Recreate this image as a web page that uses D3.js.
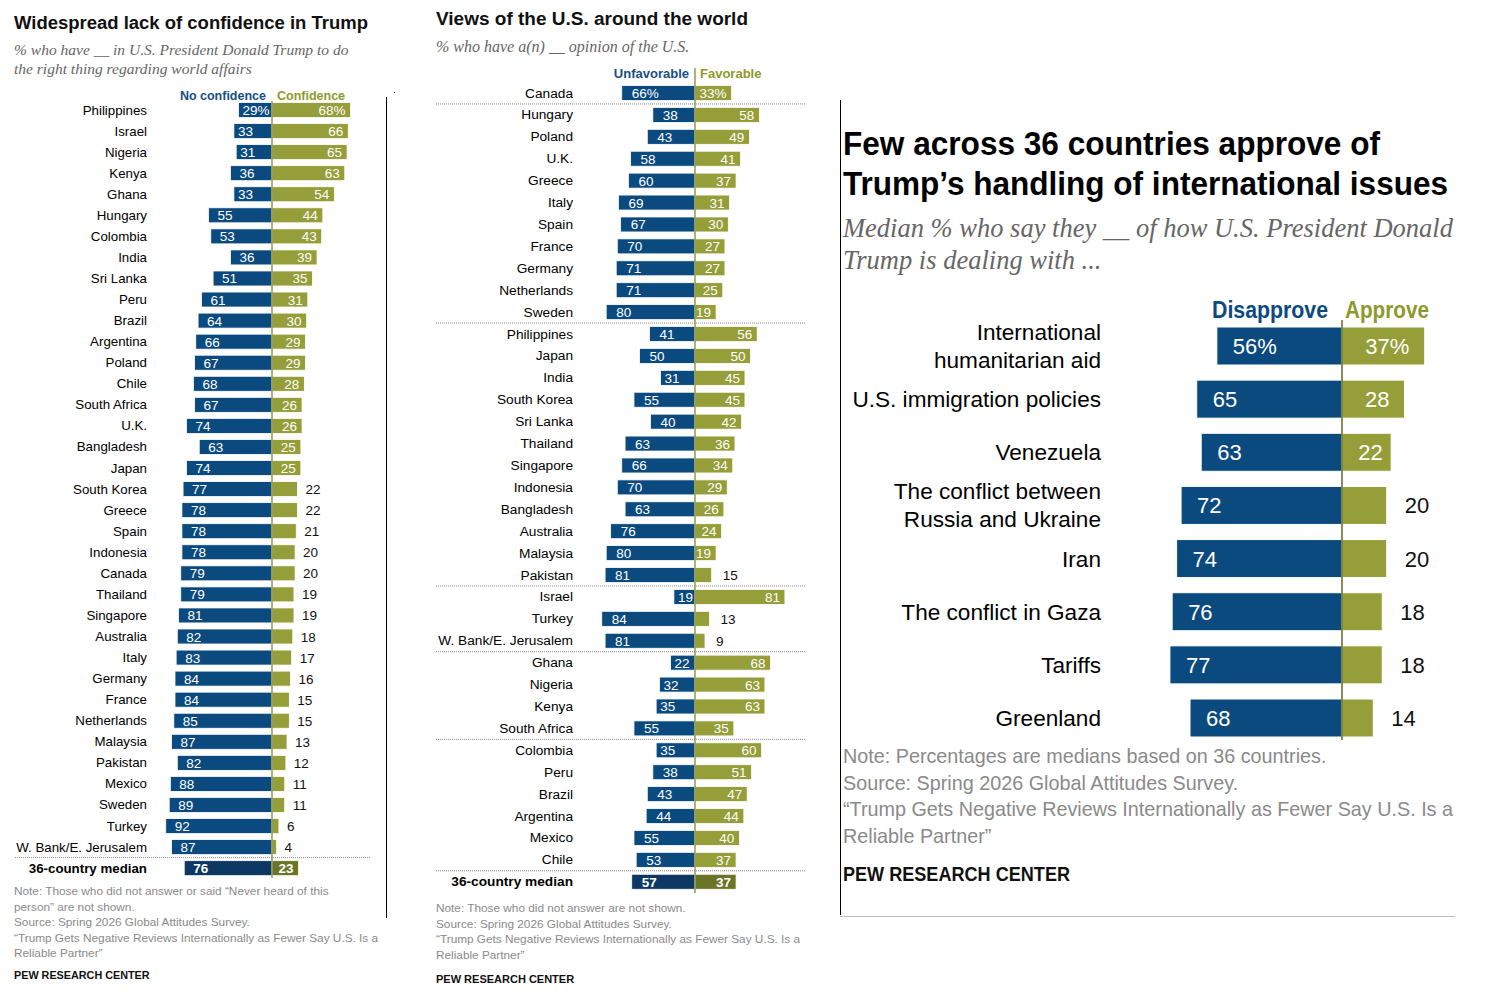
<!DOCTYPE html>
<html><head><meta charset="utf-8">
<script src="https://cdn.jsdelivr.net/npm/d3@7"></script>
<style>body{margin:0;background:#fff}svg{display:block}</style>
</head><body>
<script>
// ---------- DATA ----------
const p1Countries = ["Philippines","Israel","Nigeria","Kenya","Ghana","Hungary","Colombia","India","Sri Lanka","Peru","Brazil","Argentina","Poland","Chile","South Africa","U.K.","Bangladesh","Japan","South Korea","Greece","Spain","Indonesia","Canada","Thailand","Singapore","Australia","Italy","Germany","France","Netherlands","Malaysia","Pakistan","Mexico","Sweden","Turkey","W. Bank/E. Jerusalem"];
const p1NoConfidence = [29,33,31,36,33,55,53,36,51,61,64,66,67,68,67,74,63,74,77,78,78,78,79,79,81,82,83,84,84,85,87,82,88,89,92,87];
const p1Confidence   = [68,66,65,63,54,44,43,39,35,31,30,29,29,28,26,26,25,25,22,22,21,20,20,19,19,18,17,16,15,15,13,12,11,11,6,4];
const p1Median = [76,23];
const p1Legend = ["No confidence","Confidence"];

const p2Countries = ["Canada","Hungary","Poland","U.K.","Greece","Italy","Spain","France","Germany","Netherlands","Sweden","Philippines","Japan","India","South Korea","Sri Lanka","Thailand","Singapore","Indonesia","Bangladesh","Australia","Malaysia","Pakistan","Israel","Turkey","W. Bank/E. Jerusalem","Ghana","Nigeria","Kenya","South Africa","Colombia","Peru","Brazil","Argentina","Mexico","Chile"];
const p2Unfavorable = [66,38,43,58,60,69,67,70,71,71,80,41,50,31,55,40,63,66,70,63,76,80,81,19,84,81,22,32,35,55,35,38,43,44,55,53];
const p2Favorable   = [33,58,49,41,37,31,30,27,27,25,19,56,50,45,45,42,36,34,29,26,24,19,15,81,13,9,68,63,63,35,60,51,47,44,40,37];
const p2GroupEnds = [0,10,22,25,29,35]; // last index of each region group
const p2Median = [57,37];
const p2Legend = ["Unfavorable","Favorable"];

const p3Issues = [["International","humanitarian aid"],["U.S. immigration policies"],["Venezuela"],["The conflict between","Russia and Ukraine"],["Iran"],["The conflict in Gaza"],["Tariffs"],["Greenland"]];
const p3Disapprove = [56,65,63,72,74,76,77,68];
const p3Approve    = [37,28,22,20,20,18,18,14];
const p3Legend = ["Disapprove","Approve"];

// ---------- STYLE ----------
const BLUE="#0b4a7e", OLIVE="#959e38", DBLUE="#0d3864", DOLIVE="#6b7427";
const HBLUE="#174f86", HOLIVE="#8c9a2c";
const SANS="'Liberation Sans', Arial, sans-serif";
const SERIF="'Liberation Serif', Georgia, serif";

const svg = d3.select("body").append("svg").attr("width",1500).attr("height",1000);

function txt(g, x, y, s, o={}) {
  const t = g.append("text").attr("x",x).attr("y",y).text(s)
    .attr("font-family",o.f||SANS).attr("font-size",o.size||13)
    .attr("font-weight",o.w||"normal").attr("font-style",o.it?"italic":"normal")
    .attr("fill",o.c||"#000").attr("text-anchor",o.a||"start");
  if (o.len) t.attr("textLength",o.len).attr("lengthAdjust","spacingAndGlyphs");
  return t;
}

function panel(opt){
  const g = svg.append("g");
  const n = opt.countries.length;
  const xs = d3.scaleLinear().domain([0,100]).range([0,opt.k*100]);
  const ys = d3.scaleLinear().domain([0,n]).range([opt.y0, opt.y0+opt.step*n]);
  const rows = opt.countries.map((c,i)=>({c,a:opt.neg[i],b:opt.pos[i],i,med:false}));
  rows.push({c:"36-country median",a:opt.median[0],b:opt.median[1],i:n,med:true});
  const cx=opt.cx, bh=opt.bh;
  opt.seps.forEach(i=>{
    const y=(ys(i)+ys(i+1))/2;
    g.append("line").attr("x1",opt.sepX[0]).attr("x2",opt.sepX[1]).attr("y1",y).attr("y2",y)
      .attr("stroke","#888").attr("stroke-width",1).attr("stroke-dasharray","1,1");
  });
  const r = g.selectAll("g.row").data(rows).join("g").attr("class","row");
  r.append("rect").attr("x",d=>cx-xs(d.a)).attr("y",d=>ys(d.i)-bh/2).attr("width",d=>xs(d.a)).attr("height",bh)
    .attr("fill",d=>d.med?DBLUE:BLUE).attr("stroke","#fff").attr("stroke-width",0.8);
  r.append("rect").attr("x",cx).attr("y",d=>ys(d.i)-bh/2).attr("width",d=>xs(d.b)).attr("height",bh)
    .attr("fill",d=>d.med?DOLIVE:OLIVE).attr("stroke","#fff").attr("stroke-width",0.8);
  r.append("text").attr("x",opt.labelX).attr("y",d=>ys(d.i)+4.5).attr("text-anchor","end")
    .attr("font-family",SANS).attr("font-size",opt.labelSize).attr("font-weight",d=>d.med?"bold":"normal").text(d=>d.c);
  r.append("text").attr("x",d=>cx-xs(d.a)+(xs(d.a)<40?4:opt.negPad)).attr("y",d=>ys(d.i)+5)
    .attr("font-family",SANS).attr("font-size",13.5).attr("font-weight",d=>d.med?"bold":"normal").attr("fill","#fff")
    .text(d=>d.a+(d.i===0?"%":""));
  r.append("text").attr("x",d=>d.b>=opt.thr? cx+xs(d.b)-5 : cx+xs(d.b)+opt.outPad)
    .attr("text-anchor",d=>d.b>=opt.thr?"end":"start").attr("y",d=>ys(d.i)+5)
    .attr("font-family",SANS).attr("font-size",13.5).attr("font-weight",d=>d.med?"bold":"normal")
    .attr("fill",d=>d.b>=opt.thr?"#fff":"#111").text(d=>d.b+(d.i===0?"%":""));
  g.append("line").attr("x1",cx).attr("x2",cx).attr("y1",opt.lineY[0]).attr("y2",opt.lineY[1])
    .attr("stroke","#7d8a3a").attr("stroke-width",1.3);
  txt(g,cx-6,opt.legY,opt.legend[0],{w:"bold",c:HBLUE,a:"end",size:opt.legSize});
  txt(g,cx+5,opt.legY,opt.legend[1],{w:"bold",c:HOLIVE,size:opt.legSize});
  txt(g,opt.tx,opt.titleY,opt.title,{w:"bold",size:18,c:"#111",len:opt.titleLen});
  opt.sub.forEach((s,i)=>txt(g,opt.tx,opt.subY+i*19,s,{f:SERIF,it:true,size:opt.subSize,c:"#666"}));
  opt.notes.forEach((s,i)=>txt(g,opt.tx,opt.noteY+i*15.5,s,{size:11.8,c:"#8a8a8a"}));
  txt(g,opt.tx,opt.pewY,"PEW RESEARCH CENTER",{size:opt.pewSize,w:"bold",c:"#111"});
}

panel({countries:p1Countries,neg:p1NoConfidence,pos:p1Confidence,median:p1Median,legend:p1Legend,
  cx:272,k:1.155,y0:110,step:21.06,bh:15,labelX:147,labelSize:13.3,negPad:9,outPad:8,thr:23,
  seps:[35],sepX:[15,370],lineY:[101,878],legY:100,legSize:12.5,
  tx:14,title:"Widespread lack of confidence in Trump",titleY:29,titleLen:354,
  sub:["% who have __ in U.S. President Donald Trump to do","the right thing regarding world affairs"],subY:55,subSize:15.5,
  notes:["Note: Those who did not answer or said \u201cNever heard of this","person\u201d are not shown.","Source: Spring 2026 Global Attitudes Survey.","\u201cTrump Gets Negative Reviews Internationally as Fewer Say U.S. Is a","Reliable Partner\u201d"],
  noteY:895,pewY:979,pewSize:10.8});

panel({countries:p2Countries,neg:p2Unfavorable,pos:p2Favorable,median:p2Median,legend:p2Legend,
  cx:695,k:1.11,y0:93,step:21.91,bh:15,labelX:573,labelSize:13.7,negPad:10,outPad:11,thr:19,
  seps:p2GroupEnds,sepX:[436,806],lineY:[68,893],legY:78,legSize:13,
  tx:436,title:"Views of the U.S. around the world",titleY:25,titleLen:312,
  sub:["% who have a(n) __ opinion of the U.S."],subY:52,subSize:16,
  notes:["Note: Those who did not answer are not shown.","Source: Spring 2026 Global Attitudes Survey.","\u201cTrump Gets Negative Reviews Internationally as Fewer Say U.S. Is a","Reliable Partner\u201d"],
  noteY:912,pewY:983,pewSize:11});

svg.append("line").attr("x1",386.5).attr("x2",386.5).attr("y1",97).attr("y2",918).attr("stroke","#000");
svg.append("rect").attr("x",394).attr("y",92).attr("width",1).attr("height",1).attr("fill","#000");

// ---------- PANEL 3 ----------
(function(){
  const g = svg.append("g");
  const cx=1342, bh=38;
  const xs = d3.scaleLinear().domain([0,100]).range([0,223.5]);
  const ys = d3.scaleLinear().domain([0,7]).range([346,718]);
  g.append("line").attr("x1",840.5).attr("x2",840.5).attr("y1",100).attr("y2",915).attr("stroke","#000");
  g.append("line").attr("x1",840).attr("x2",1455).attr("y1",916.5).attr("y2",916.5).attr("stroke","#bbb");
  txt(g,843,155,"Few across 36 countries approve of",{w:"bold",size:34,len:537});
  txt(g,843,195,"Trump\u2019s handling of international issues",{w:"bold",size:34,len:605});
  txt(g,843,237,"Median % who say they __ of how U.S. President Donald",{f:SERIF,it:true,size:26.5,c:"#666"});
  txt(g,843,269,"Trump is dealing with ...",{f:SERIF,it:true,size:26.5,c:"#666"});
  txt(g,1328,318,p3Legend[0],{w:"bold",size:23,c:BLUE,a:"end",len:116});
  txt(g,1345,318,p3Legend[1],{w:"bold",size:23,c:HOLIVE,len:84});
  const rows = p3Issues.map((l,i)=>({l,a:p3Disapprove[i],b:p3Approve[i],i}));
  const r = g.selectAll("g.r3").data(rows).join("g").attr("class","r3");
  r.append("rect").attr("x",d=>cx-xs(d.a)).attr("y",d=>ys(d.i)-bh/2).attr("width",d=>xs(d.a)).attr("height",bh)
    .attr("fill",BLUE).attr("stroke","#fff").attr("stroke-width",1);
  r.append("rect").attr("x",cx).attr("y",d=>ys(d.i)-bh/2).attr("width",d=>xs(d.b)).attr("height",bh)
    .attr("fill",OLIVE).attr("stroke","#fff").attr("stroke-width",1);
  r.each(function(d){
    const s=d3.select(this);
    d.l.forEach((line,j)=>{
      const y = ys(d.i)+8+(d.l.length===2?(j===0?-14:14):0);
      txt(s,1101,y,line,{size:22.6,a:"end"});
    });
  });
  r.append("text").attr("x",d=>cx-xs(d.a)+16).attr("y",d=>ys(d.i)+8).attr("font-family",SANS).attr("font-size",22)
    .attr("fill","#fff").text(d=>d.a+(d.i===0?"%":""));
  r.append("text").attr("x",d=>d.b>=22? cx+xs(d.b)/2+4 : cx+xs(d.b)+18).attr("text-anchor",d=>d.b>=22?"middle":"start")
    .attr("y",d=>ys(d.i)+8).attr("font-family",SANS).attr("font-size",22)
    .attr("fill",d=>d.b>=22?"#fff":"#111").text(d=>d.b+(d.i===0?"%":""));
  g.append("line").attr("x1",cx).attr("x2",cx).attr("y1",320).attr("y2",740).attr("stroke","#5f6a22").attr("stroke-width",1.5);
  // notes in a condensed look: compress horizontally by a common factor
  const notes=["Note: Percentages are medians based on 36 countries.","Source: Spring 2026 Global Attitudes Survey.","\u201cTrump Gets Negative Reviews Internationally as Fewer Say U.S. Is a","Reliable Partner\u201d"];
  const nodes = notes.map((s,i)=>txt(g,843,763+i*26.5,s,{size:21,c:"#8a8a8a"}));
  const factor = 610 / nodes[2].node().getComputedTextLength();
  nodes.forEach(t=>{ const w=t.node().getComputedTextLength(); t.attr("textLength",w*factor).attr("lengthAdjust","spacingAndGlyphs"); });
  txt(g,843,881,"PEW RESEARCH CENTER",{size:21,w:"bold",c:"#111",len:227});
})();
</script>
</body></html>
